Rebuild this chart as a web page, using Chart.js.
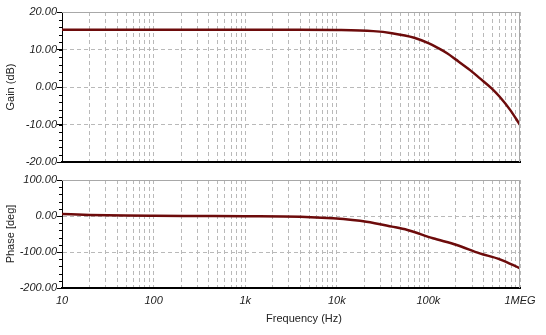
<!DOCTYPE html>
<html>
<head>
<meta charset="utf-8">
<script src="https://cdn.jsdelivr.net/npm/chart.js@4.4.0/dist/chart.umd.min.js"></script>
<style>
  body { margin: 0; background: #fff; width: 546px; height: 335px; overflow: hidden; position: relative; }
  canvas { position: absolute; left: 0; }
  #gainChart { top: 0; }
  #phaseChart { top: 165px; }
</style>
</head>
<body>
<canvas id="gainChart" width="546" height="170"></canvas>
<canvas id="phaseChart" width="546" height="170"></canvas>
<script>
// Values
const gainFreq = [10, 100, 1000, 4000, 10000, 25000, 40000, 70000, 100000, 125000, 160000, 200000, 285000, 365000, 490000, 600000, 780000, 1000000];
const gainDb   = [15.25, 15.25, 15.25, 15.25, 15.2, 14.9, 14.35, 13.15, 11.7, 10.5, 9.0, 7.3, 4.5, 2.3, -0.35, -2.6, -6.1, -10.1];

const phaseFreq = [10, 20, 50, 100, 300, 1000, 4000, 9000, 21000, 40000, 59000, 112000, 204000, 363000, 604000, 1000000];
const phaseDeg  = [5.5, 2.8, 1.1, 0.5, 0, -0.5, -1.9, -6.5, -15.7, -29.5, -38.9, -62, -80.5, -103.7, -120.4, -145.4];

const decades = [10, 100, 1000, 10000, 100000, 1000000];
const decadeLabels = ['10', '100', '1k', '10k', '100k', '1MEG'];

const LINE = '#6d0b0b';
const GRID = '#b9b9b9';
const TEXT = '#222';
const FONT = "'Liberation Sans', Arial, sans-serif";

// 1..9 x each decade, for the log grid
function logTicks() {
    const t = [];
    decades.forEach((d, i) => {
        if (i === decades.length - 1) { t.push({ value: d }); return; }
        for (let m = 1; m < 10; m++) t.push({ value: d * m });
    });
    return t;
}

// grey frame on top/right, small minor ticks on the y axis, x title
const framePlugin = {
    id: 'frame',
    afterDraw(chart, args, opts) {
        const { ctx, chartArea: a } = chart;
        const y = chart.scales.y;
        ctx.save();
        ctx.strokeStyle = '#a8a8a8';
        ctx.lineWidth = 1;
        ctx.beginPath();
        ctx.moveTo(a.left, a.top + 0.5);
        ctx.lineTo(a.right - 0.5, a.top + 0.5);
        ctx.lineTo(a.right - 0.5, a.bottom);
        ctx.stroke();

        ctx.strokeStyle = '#000';
        ctx.beginPath();
        const n = Math.round((y.max - y.min) / opts.minor);
        for (let i = 0; i <= n; i++) {
            const py = Math.round(y.getPixelForValue(y.min + i * opts.minor)) + 0.5;
            ctx.moveTo(a.left - 3, py);
            ctx.lineTo(a.left, py);
        }
        ctx.stroke();

        if (opts.xTitle) {
            ctx.fillStyle = TEXT;
            ctx.font = '11px ' + FONT;
            ctx.textAlign = 'center';
            ctx.textBaseline = 'middle';
            ctx.fillText(opts.xTitle, (a.left + a.right) / 2 + 13, a.bottom + 31);
        }
        ctx.restore();
    }
};

function makeChart(id, freq, vals, cfg) {
    const ctx = document.getElementById(id).getContext('2d');
    return new Chart(ctx, {
        type: 'line',
        data: {
            datasets: [{
                data: freq.map((f, i) => ({ x: f, y: vals[i] })),
                borderColor: LINE,
                borderWidth: 2.5,
                pointRadius: 0,
                cubicInterpolationMode: 'monotone',
                fill: false
            }]
        },
        plugins: [framePlugin],
        options: {
            responsive: false,
            animation: false,
            devicePixelRatio: 1,
            layout: { padding: { top: cfg.padTop, right: 26, left: 0, bottom: 0 } },
            plugins: {
                legend: { display: false },
                tooltip: { enabled: false },
                frame: { minor: cfg.minor, xTitle: cfg.xTitle }
            },
            scales: {
                x: {
                    type: 'logarithmic',
                    min: 10,
                    max: 1000000,
                    afterBuildTicks: s => { s.ticks = logTicks(); },
                    afterFit: s => { s.height = cfg.xHeight; },
                    ticks: {
                        display: cfg.showX,
                        autoSkip: false,
                        maxRotation: 0,
                        padding: 6,
                        color: TEXT,
                        font: { family: FONT, size: 11, style: 'italic' },
                        callback: v => {
                            const i = decades.indexOf(v);
                            return i >= 0 ? decadeLabels[i] : '';
                        }
                    },
                    grid: { color: GRID, drawTicks: false, borderDash: [4, 3] },
                    border: { color: '#000', width: 2, dash: [4, 3] }
                },
                y: {
                    min: cfg.yMin,
                    max: cfg.yMax,
                    afterFit: s => { s.width = 62; },
                    ticks: {
                        stepSize: cfg.yStep,
                        padding: 0,
                        color: TEXT,
                        font: { family: FONT, size: 11, style: 'italic' },
                        callback: v => v.toFixed(2)
                    },
                    title: {
                        display: true,
                        text: cfg.yTitle,
                        color: TEXT,
                        font: { family: FONT, size: 11 },
                        padding: { top: 4, bottom: 0 }
                    },
                    grid: { color: GRID, tickColor: '#000', tickLength: 5, borderDash: [4, 3], tickBorderDash: [] },
                    border: { color: '#000', width: 1, dash: [4, 3] }
                }
            }
        }
    });
}

makeChart('gainChart', gainFreq, gainDb, {
    yMin: -20, yMax: 20, yStep: 10, minor: 2, yTitle: 'Gain (dB)',
    showX: false, padTop: 12, xHeight: 8
});

makeChart('phaseChart', phaseFreq, phaseDeg, {
    yMin: -200, yMax: 100, yStep: 100, minor: 20, yTitle: 'Phase [deg]',
    showX: true, padTop: 15, xHeight: 47, xTitle: 'Frequency (Hz)'
});
</script>
</body>
</html>
